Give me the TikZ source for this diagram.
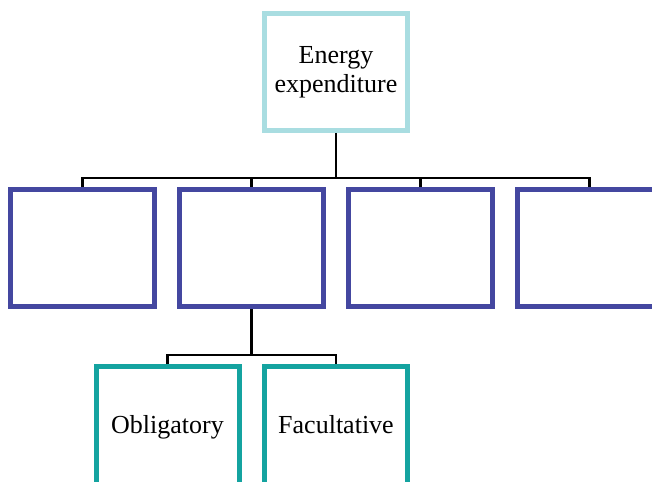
\documentclass[tikz,border=0pt]{standalone}
\usepackage{fontspec}
\setmainfont{Liberation Serif}
\definecolor{topcyan}{HTML}{A9DDE1}
\definecolor{midblue}{HTML}{4447A0}
\definecolor{lowteal}{HTML}{14A3A0}
\begin{document}
\begin{tikzpicture}[x=1pt,y=-1pt,
  box/.style={draw, line width=5pt, fill=white, minimum width=144pt, minimum height=117pt,
    inner sep=0pt, align=center, font=\fontsize{26}{29}\selectfont},
  topbox/.style={box, draw=topcyan, minimum width=143pt},
  midbox/.style={box, draw=midblue},
  lowbox/.style={box, draw=lowteal, minimum width=143pt, minimum height=127pt,
    text height=18pt, text depth=12pt},
  link/.style={draw=black, line width=2.8pt}]
\useasboundingbox (0,0) rectangle (652,481);
\clip (0,0) rectangle (652,481);
% junction points of the tree
\coordinate (bus) at (336,178);
\coordinate (sub) at (251.5,355);
% boxes
\node[topbox] (top) at (336,72) {Energy\\expenditure};
\node[midbox] (m1) at (82.5,248) {};
\node[midbox] (m2) at (251.5,248) {};
\node[midbox] (m3) at (420.5,248) {};
\node[midbox] (m4) at (589.5,248) {};
\node[lowbox] (obl) at (167.5,430) {Obligatory};
\node[lowbox] (fac) at (336,430) {Facultative};
% connectors
\draw[link] (top.south) -- (bus);
\draw[link] (m1.north) |- (bus) -| (m4.north);
\draw[link] (m2.north) -- (m2.north |- bus);
\draw[link] (m3.north) -- (m3.north |- bus);
\draw[link] (m2.south) -- (sub);
\draw[link] (obl.north) |- (sub) -| (fac.north);
\end{tikzpicture}
\end{document}
